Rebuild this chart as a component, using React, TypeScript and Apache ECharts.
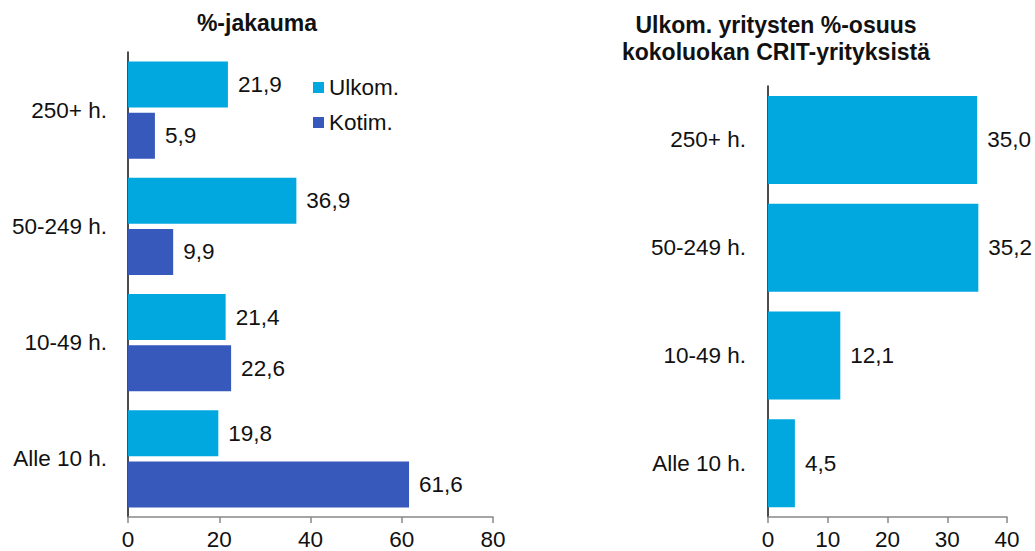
import React, { useEffect, useRef } from "react";
import * as echarts from "echarts";

const categories = ["250+ h.", "50-249 h.", "10-49 h.", "Alle 10 h."];
const ulkomShare = [21.9, 36.9, 21.4, 19.8];
const kotimShare = [5.9, 9.9, 22.6, 61.6];
const ulkomPercentOfSize = [35.0, 35.2, 12.1, 4.5];
const leftTicks = { min: 0, max: 80, interval: 20 };
const rightTicks = { min: 0, max: 40, interval: 10 };

const FONT = "'Liberation Sans', Arial, sans-serif";
const C_ULKOM = "#00A8DF";
const C_KOTIM = "#3859BC";
const FS = 22.5;

const fmt = (v: number) => v.toFixed(1).replace(".", ",");

export default function App() {
  const ref = useRef<HTMLDivElement>(null);
  useEffect(() => {
    document.body.style.margin = "0";
    const chart = echarts.init(ref.current!, undefined, { renderer: "svg" });
    const axisLabel = { fontSize: FS, color: "#111", fontFamily: FONT };
    const valueLabel = {
      show: true,
      position: "right" as const,
      distance: 10,
      fontSize: FS,
      color: "#111",
      fontFamily: FONT,
      formatter: (p: any) => fmt(p.value),
    };
    chart.setOption({
      animation: false,
      backgroundColor: "#fff",
      title: [
        {
          text: "%-jakauma",
          left: 252,
          top: 6,
          textAlign: "center",
          textStyle: { fontSize: 23, fontWeight: "bold", color: "#111", fontFamily: FONT },
        },
        {
          text: "Ulkom. yritysten %-osuus\nkokoluokan CRIT-yrityksistä",
          left: 771,
          top: 6,
          textAlign: "center",
          textStyle: { fontSize: 23, fontWeight: "bold", color: "#111", fontFamily: FONT, lineHeight: 27 },
        },
      ],
      legend: {
        orient: "vertical",
        left: 308,
        top: 70,
        itemWidth: 11,
        itemHeight: 11,
        itemGap: 10,
        icon: "rect",
        textStyle: { fontSize: FS, color: "#111", fontFamily: FONT, lineHeight: 25 },
        data: ["Ulkom.", "Kotim."],
      },
      grid: [
        { left: 128, right: 542, top: 52, bottom: 34 },
        { left: 768, right: 28, top: 86, bottom: 34 },
      ],
      xAxis: [
        {
          gridIndex: 0,
          type: "value",
          ...leftTicks,
          axisLine: { show: true, lineStyle: { color: "#888", width: 1.5 } },
          axisTick: { show: true, length: 6, lineStyle: { color: "#888", width: 1.5 } },
          splitLine: { show: false },
          axisLabel: { ...axisLabel, margin: 11 },
        },
        {
          gridIndex: 1,
          type: "value",
          ...rightTicks,
          axisLine: { show: true, lineStyle: { color: "#888", width: 1.5 } },
          axisTick: { show: true, length: 6, lineStyle: { color: "#888", width: 1.5 } },
          splitLine: { show: false },
          axisLabel: { ...axisLabel, margin: 11 },
        },
      ],
      yAxis: [
        {
          gridIndex: 0,
          type: "category",
          inverse: true,
          data: categories,
          axisLine: { show: true, lineStyle: { color: "#111", width: 1.5 } },
          axisTick: { show: false },
          axisLabel: { ...axisLabel, margin: 21 },
        },
        {
          gridIndex: 1,
          type: "category",
          inverse: true,
          data: categories,
          axisLine: { show: true, lineStyle: { color: "#111", width: 1.5 } },
          axisTick: { show: false },
          axisLabel: { ...axisLabel, margin: 22 },
        },
      ],
      series: [
        {
          name: "Ulkom.",
          type: "bar",
          xAxisIndex: 0,
          yAxisIndex: 0,
          data: ulkomShare,
          barWidth: 46,
          barGap: "11%",
          itemStyle: { color: C_ULKOM },
          label: valueLabel,
        },
        {
          name: "Kotim.",
          type: "bar",
          xAxisIndex: 0,
          yAxisIndex: 0,
          data: kotimShare,
          barWidth: 46,
          barGap: "11%",
          itemStyle: { color: C_KOTIM },
          label: valueLabel,
        },
        {
          name: "Osuus",
          type: "bar",
          xAxisIndex: 1,
          yAxisIndex: 1,
          data: ulkomPercentOfSize,
          barWidth: 88,
          itemStyle: { color: C_ULKOM },
          label: valueLabel,
        },
      ],
    });
    return () => chart.dispose();
  }, []);
  return <div ref={ref} style={{ width: 1035, height: 551 }} />;
}
